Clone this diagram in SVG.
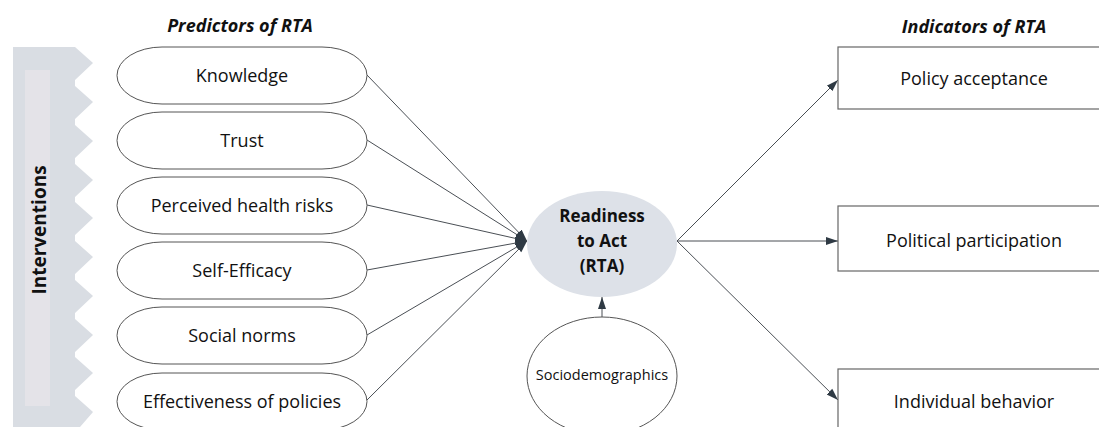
<svg xmlns="http://www.w3.org/2000/svg" width="1099" height="427" viewBox="0 0 1099 427">
<style>
.t{font-family:"Open Sans","Liberation Sans",sans-serif;fill:#111;text-anchor:middle}
.lbl{font-size:18px}
.hd{font-size:18px;font-weight:bold;font-style:italic}
.pred{fill:#fff;stroke:#555;stroke-width:1}
.box{fill:#fff;stroke:#666;stroke-width:1.2}
.con{stroke:#4a4f55;stroke-width:1;fill:none}
</style>
<defs>
<marker id="ah" viewBox="0 0 12 10" refX="12" refY="5" markerWidth="12" markerHeight="10" markerUnits="userSpaceOnUse" orient="auto">
<path d="M0,1 L12,5 L0,9 z" fill="#2f3a44"/>
</marker>
<marker id="ahb" viewBox="0 0 12 10" refX="12" refY="5" markerWidth="12" markerHeight="10" markerUnits="userSpaceOnUse" orient="auto">
<path d="M0,1 L12,5 L0,9 z" fill="#2f3a44"/>
</marker>
</defs>
<g id="interventions">
<path d="M13,47 L75,47 L93,63 L75,80 L75,86 L93,102 L75,119 L75,125 L93,141 L75,158 L75,164 L93,180 L75,197 L75,202 L93,218 L75,235 L75,241 L93,257 L75,274 L75,280 L93,296 L75,313 L75,319 L93,335 L75,352 L75,357 L93,373 L75,390 L75,396 L93,412 L80,427 L13,427 Z" fill="#d9dde3"/>
<rect x="25" y="70" width="25" height="336" fill="#e4e3e8"/>
<text class="t" transform="translate(46,230) rotate(-90)" style="font-size:19px;font-weight:bold">Interventions</text>
</g>
<g id="titles">
<text class="t hd" x="240" y="32">Predictors of RTA</text>
<text class="t hd" x="974" y="33">Indicators of RTA</text>
</g>
<g id="connectors">
<line class="con" x1="367" y1="75" x2="527" y2="241" marker-end="url(#ahb)"/>
<line class="con" x1="367" y1="140" x2="527" y2="241" marker-end="url(#ahb)"/>
<line class="con" x1="367" y1="205" x2="527" y2="241" marker-end="url(#ahb)"/>
<line class="con" x1="367" y1="270" x2="527" y2="241" marker-end="url(#ahb)"/>
<line class="con" x1="367" y1="335" x2="527" y2="241" marker-end="url(#ahb)"/>
<line class="con" x1="367" y1="400" x2="527" y2="241" marker-end="url(#ahb)"/>
<line class="con" x1="677" y1="241" x2="838" y2="80" marker-end="url(#ah)"/>
<line class="con" x1="677" y1="241" x2="838" y2="241" marker-end="url(#ah)"/>
<line class="con" x1="677" y1="241" x2="838" y2="400" marker-end="url(#ah)"/>
<line class="con" x1="602" y1="317" x2="602" y2="297" marker-end="url(#ah)"/>
</g>
<g id="knowledge"><rect class="pred" x="117" y="47" width="250" height="57" rx="45" ry="28.5"/><text class="t lbl" x="242" y="82">Knowledge</text></g>
<g id="trust"><rect class="pred" x="117" y="112" width="250" height="57" rx="45" ry="28.5"/><text class="t lbl" x="242" y="147">Trust</text></g>
<g id="risks"><rect class="pred" x="117" y="177" width="250" height="57" rx="45" ry="28.5"/><text class="t lbl" x="242" y="212">Perceived health risks</text></g>
<g id="efficacy"><rect class="pred" x="117" y="242" width="250" height="57" rx="45" ry="28.5"/><text class="t lbl" x="242" y="277">Self-Efficacy</text></g>
<g id="norms"><rect class="pred" x="117" y="307" width="250" height="57" rx="45" ry="28.5"/><text class="t lbl" x="242" y="342">Social norms</text></g>
<g id="effectiveness"><rect class="pred" x="117" y="373" width="250" height="57" rx="45" ry="28.5"/><text class="t lbl" x="242" y="408">Effectiveness of policies</text></g>
<g id="rta">
<ellipse cx="602" cy="244" rx="75" ry="53" fill="#dde1e8"/>
<text class="t" style="font-size:17px;font-weight:bold" x="602" y="222">Readiness</text>
<text class="t" style="font-size:17px;font-weight:bold" x="602" y="247">to Act</text>
<text class="t" style="font-size:17px;font-weight:bold" x="602" y="272">(RTA)</text>
</g>
<g id="sociodemographics">
<ellipse cx="602" cy="376" rx="75" ry="59" fill="#fff" stroke="#555" stroke-width="1"/>
<text class="t" style="font-size:14.5px" x="602" y="380">Sociodemographics</text>
</g>
<g id="policy"><rect class="box" x="838" y="47" width="280" height="62"/><text class="t lbl" x="974" y="85">Policy acceptance</text></g>
<g id="participation"><rect class="box" x="838" y="206" width="280" height="65"/><text class="t lbl" x="974" y="247">Political participation</text></g>
<g id="behavior"><rect class="box" x="838" y="369" width="280" height="70"/><text class="t lbl" x="974" y="408">Individual behavior</text></g>
</svg>
